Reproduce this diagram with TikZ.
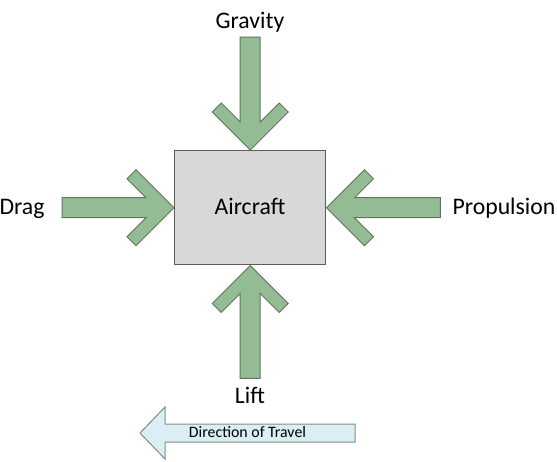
\documentclass[tikz,border=0pt]{standalone}
\usepackage{fontspec}
\setmainfont{Carlito}
\definecolor{forcefill}{RGB}{148,188,148}
\definecolor{forceline}{RGB}{94,118,94}
\definecolor{boxfill}{RGB}{216,216,216}
\definecolor{boxline}{RGB}{90,96,86}
\definecolor{travelfill}{RGB}{219,238,243}
\definecolor{travelline}{RGB}{128,140,140}
\newcommand\forcearrowshape[3]{%
  \begin{scope}[shift={(#1)},rotate=#2]
    \draw[forcestyle] (0,0) -- (-38,38) -- (-47,29) -- (-28,10) -- (-#3,10)
      -- (-#3,-10) -- (-28,-10) -- (-47,-29) -- (-38,-38) -- cycle;
  \end{scope}}
\begin{document}
\begin{tikzpicture}[x=0.75pt,y=-0.75pt,
  forcestyle/.style={fill=forcefill,draw=forceline,line width=0.75pt,line join=miter},
  bigtext/.style={font=\fontsize{17.8}{20}\selectfont,anchor=base,inner sep=0pt},
  smalltext/.style={font=\fontsize{11.9}{14}\selectfont,anchor=base,inner sep=0pt}]
\useasboundingbox (0,0) rectangle (557,461);
% aircraft box
\node[draw=boxline,fill=boxfill,line width=1.1pt,minimum width=151*0.75pt,minimum height=114*0.75pt,inner sep=0pt,anchor=north west] (aircraft) at (174,150) {};
\node[bigtext] (aircraftlabel) at (250,214) {Aircraft};
% tips
\coordinate (gtip) at (aircraft.north);
\coordinate (ltip) at (aircraft.south);
\coordinate (dtip) at (aircraft.west);
\coordinate (ptip) at (aircraft.east);
\forcearrowshape{gtip}{-90}{113}
\forcearrowshape{ltip}{90}{113}
\forcearrowshape{dtip}{0}{112}
\forcearrowshape{ptip}{180}{114}
% labels
\node[bigtext] (gravity) at (250,28) {Gravity};
\node[bigtext] (drag) at (22,214) {Drag};
\node[bigtext] (propulsion) at (504,214) {Propulsion};
\node[bigtext] (lift) at (250,403) {Lift};
% direction of travel
\draw[fill=travelfill,draw=travelline,line width=0.75pt] (140,433) -- (165,407) -- (165,424) -- (355,424)
  -- (355,442) -- (165,442) -- (165,459) -- cycle;
\node[smalltext] (travel) at (247.5,437) {Direction of Travel};
\end{tikzpicture}
\end{document}
